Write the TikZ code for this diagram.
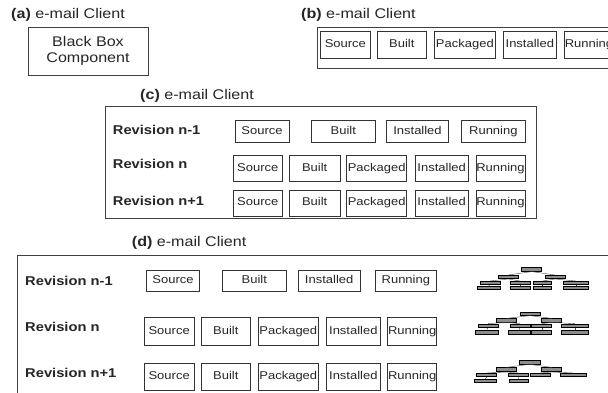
\documentclass[tikz,border=0pt]{standalone}
\usepackage{fontspec}
\setmainfont{Liberation Sans}[FakeStretch=1.15]
\tikzset{
  sbox/.style={draw=black!80, line width=0.8pt, inner sep=0pt, text height=8.2pt, text depth=2.3pt, font=\fontsize{11.3}{13}\selectfont, text=black!85},
  outer/.style={draw=black!75, line width=0.8pt, inner sep=0pt},
  ttl/.style={anchor=base west, inner sep=0pt, font=\fontsize{14}{16}\selectfont, text=black!85},
  rev/.style={anchor=base west, inner sep=0pt, font=\fontsize{12.8}{15}\selectfont\bfseries, text=black!85},
  tn/.style={draw=black, line width=0.6pt, fill=black!45, inner sep=0pt},
  te/.style={draw=black!70, line width=0.4pt}
}
\newcommand{\bx}[6]{\node[sbox, minimum width={(#4-#2)*1pt}, minimum height={(#5-#3)*1pt}] (#1) at ({(#2+#4)/2},{(#3+#5)/2}) {#6};}
\newcommand{\ob}[5]{\node[outer, minimum width={(#4-#2)*1pt}, minimum height={(#5-#3)*1pt}] (#1) at ({(#2+#4)/2},{(#3+#5)/2}) {};}
\newcommand{\tnode}[5]{\node[tn, minimum width={(#4-#2)*1pt}, minimum height={(#5-#3)*1pt}] (#1) at ({(#2+#4)/2},{(#3+#5)/2}) {};}
\begin{document}
\begin{tikzpicture}[x=1pt,y=-1pt]
\clip (0,0) rectangle (608,393);
\fill[white] (0,0) rectangle (608,393);

% (a)
\node[ttl] (ta) at (11,18.5) {\textbf{(a)} e-mail Client};
\node[outer, minimum width=120pt, minimum height=48pt, align=center, font=\fontsize{14}{15.7}\selectfont, text=black!85] (bb) at (88,51) {Black Box\\Component};

% (b)
\node[ttl] (tb) at (301,18.5) {\textbf{(b)} e-mail Client};
\ob{bout}{317}{27}{640}{68}
\bx{bs}{320.7}{31.7}{370}{58.3}{Source}
\bx{bb2}{377}{31.7}{426.7}{58.3}{Built}
\bx{bp}{434}{31.7}{495.7}{58.3}{Packaged}
\bx{bi}{503}{31.7}{556.7}{58.3}{Installed}
\bx{br}{564}{31.7}{614}{58.3}{Running}

% (c)
\node[ttl] (tc) at (140,100) {\textbf{(c)} e-mail Client};
\ob{cout}{105}{106.7}{536.7}{218.3}
\node[rev] (cr1) at (112.7,134.3) {Revision n-1};
\node[rev] (cr2) at (112.7,168.8) {Revision n};
\node[rev] (cr3) at (112.7,205.7) {Revision n+1};
\bx{c1s}{235}{120}{289}{142.3}{Source}
\bx{c1b}{311.7}{120}{375}{142.3}{Built}
\bx{c1i}{386.7}{120}{448.3}{142.3}{Installed}
\bx{c1r}{461.7}{120}{525}{142.3}{Running}
\bx{c2s}{233.3}{155}{282.3}{181.7}{Source}
\bx{c2b}{289.3}{155}{340}{181.7}{Built}
\bx{c2p}{346.7}{155}{406.7}{181.7}{Packaged}
\bx{c2i}{415}{155}{468.3}{181.7}{Installed}
\bx{c2r}{476}{155}{525}{181.7}{Running}
\bx{c3s}{233.3}{190}{282.3}{216}{Source}
\bx{c3b}{289.3}{190}{340}{216}{Built}
\bx{c3p}{346.7}{190}{406.7}{216}{Packaged}
\bx{c3i}{415}{190}{468.3}{216}{Installed}
\bx{c3r}{476}{190}{525}{216}{Running}

% (d)
\node[ttl] (td) at (131.7,246.7) {\textbf{(d)} e-mail Client};
\ob{dout}{17.3}{255}{640}{420}
\node[rev] (dr1) at (25,285) {Revision n-1};
\node[rev] (dr2) at (25,331.7) {Revision n};
\node[rev] (dr3) at (25,377.3) {Revision n+1};
\bx{d1s}{146.7}{270}{199.3}{291.7}{Source}
\bx{d1b}{222.7}{270}{286}{291.7}{Built}
\bx{d1i}{298.3}{270}{360}{291.7}{Installed}
\bx{d1r}{375}{270}{436.7}{291.7}{Running}
\bx{d2s}{144.3}{317.3}{194}{345}{Source}
\bx{d2b}{201.7}{317.3}{250}{345}{Built}
\bx{d2p}{258.3}{317.3}{318.3}{345}{Packaged}
\bx{d2i}{326.7}{317.3}{380}{345}{Installed}
\bx{d2r}{387.7}{317.3}{436.7}{345}{Running}
\bx{d3s}{144.3}{363.3}{194}{390}{Source}
\bx{d3b}{201.7}{363.3}{250}{390}{Built}
\bx{d3p}{258.3}{363.3}{318.3}{390}{Packaged}
\bx{d3i}{326.7}{363.3}{380}{390}{Installed}
\bx{d3r}{387.7}{363.3}{436.7}{390}{Running}

% tree 1
\tnode{t1r}{521.7}{267.7}{541.7}{271.3}
\tnode{t1a}{498.3}{275.3}{518.3}{278.7}
\tnode{t1b}{545}{275.3}{565}{278.7}
\tnode{t1c}{480}{281.3}{500}{284.7}
\tnode{t1d}{510}{281.3}{530}{284.7}
\tnode{t1e}{533.3}{281.3}{551.7}{284.7}
\tnode{t1f}{563.3}{281.3}{588.3}{284.7}
\tnode{t1g}{477}{286.3}{500}{289.7}
\tnode{t1h}{510}{286.3}{530}{289.7}
\tnode{t1i}{533.3}{286.3}{551.7}{289.7}
\tnode{t1j}{563.3}{286.3}{588.3}{289.7}
\draw[te] (t1r.south) -- (t1a.north);
\draw[te] (t1r.south) -- (t1b.north);
\draw[te] (t1a.south) -- (t1c.north);
\draw[te] (t1a.south) -- (t1d.north);
\draw[te] (t1b.south) -- (t1e.north);
\draw[te] (t1b.south) -- (t1f.north);
\draw[te] (t1c.south) -- (t1g.north);
\draw[te] (t1d.south) -- (t1h.north);
\draw[te] (t1e.south) -- (t1i.north);
\draw[te] (t1f.south) -- (t1j.north);

% tree 2
\tnode{t2r}{520}{312}{540}{315.3}
\tnode{t2a}{496.7}{318.7}{516.7}{322}
\tnode{t2b}{541.7}{318.7}{561.7}{322}
\tnode{t2c}{478}{324}{498}{327.3}
\tnode{t2d}{510}{324}{530}{327.3}
\tnode{t2e}{531.7}{324}{551.7}{327.3}
\tnode{t2f}{561.7}{324}{588.3}{327.3}
\tnode{t2g}{475}{330.7}{498}{334}
\tnode{t2h}{508}{330.7}{530}{334}
\tnode{t2i}{531.7}{330.7}{551.7}{334}
\tnode{t2j}{561.7}{330.7}{588.3}{334}
\draw[te] (t2r.south) -- (t2a.north);
\draw[te] (t2r.south) -- (t2b.north);
\draw[te] (t2a.south) -- (t2c.north);
\draw[te] (t2a.south) -- (t2d.north);
\draw[te] (t2b.south) -- (t2e.north);
\draw[te] (t2b.south) -- (t2f.north);
\draw[te] (t2c.south) -- (t2g.north);
\draw[te] (t2d.south) -- (t2h.north);
\draw[te] (t2e.south) -- (t2i.north);
\draw[te] (t2f.south) -- (t2j.north);

% tree 3
\tnode{t3r}{519}{360}{540}{364}
\tnode{t3a}{496.7}{367.7}{516}{371.7}
\tnode{t3b}{541.7}{367.7}{561.7}{371.7}
\tnode{t3c}{476.7}{373.3}{496.7}{376.7}
\tnode{t3d}{508}{373.3}{528}{376.7}
\tnode{t3e}{530}{373.3}{550}{376.7}
\tnode{t3f}{560}{373.3}{586.7}{376.7}
\tnode{t3g}{474}{379}{496.7}{382.3}
\tnode{t3h}{509}{379}{528}{382.3}
\draw[te] (t3r.south) -- (t3a.north);
\draw[te] (t3r.south) -- (t3b.north);
\draw[te] (t3a.south) -- (t3c.north);
\draw[te] (t3a.south) -- (t3d.north);
\draw[te] (t3b.south) -- (t3e.north);
\draw[te] (t3b.south) -- (t3f.north);
\draw[te] (t3c.south) -- (t3g.north);
\draw[te] (t3d.south) -- (t3h.north);
\end{tikzpicture}
\end{document}
